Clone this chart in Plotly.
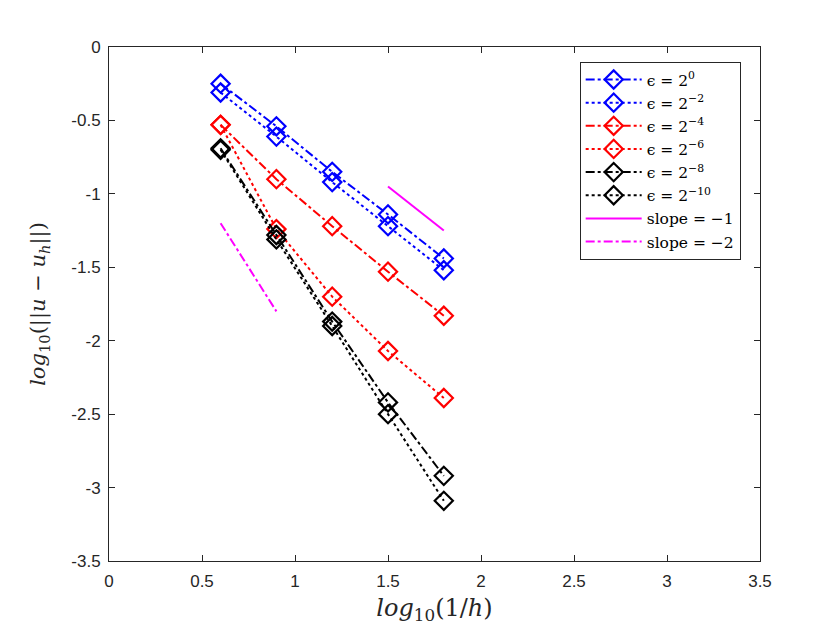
import plotly.graph_objects as go

x_vals = [0.6, 0.9, 1.2, 1.5, 1.8]

eps_0 = [-0.25, -0.54, -0.85, -1.14, -1.44]
eps_2 = [-0.31, -0.61, -0.92, -1.22, -1.52]
eps_4 = [-0.53, -0.90, -1.22, -1.53, -1.83]
eps_6 = [-0.53, -1.24, -1.70, -2.07, -2.39]
eps_8 = [-0.69, -1.28, -1.87, -2.42, -2.92]
eps_10 = [-0.70, -1.31, -1.90, -2.50, -3.09]

slope1_x = [1.5, 1.8]
slope1_y = [-0.95, -1.25]
slope2_x = [0.6, 0.9]
slope2_y = [-1.2, -1.8]

series_names = ["ϵ = 2<sup>0</sup>", "ϵ = 2<sup>−2</sup>", "ϵ = 2<sup>−4</sup>",
                "ϵ = 2<sup>−6</sup>", "ϵ = 2<sup>−8</sup>", "ϵ = 2<sup>−10</sup>"]
series_vals = [eps_0, eps_2, eps_4, eps_6, eps_8, eps_10]
series_colors = ["#0000ff", "#0000ff", "#ff0000", "#ff0000", "#000000", "#000000"]
series_dash = ["dashdot", "dot", "dashdot", "dot", "dashdot", "dot"]

x_ticks = [0, 0.5, 1, 1.5, 2, 2.5, 3, 3.5]
x_ticktext = ["0", "0.5", "1", "1.5", "2", "2.5", "3", "3.5"]
y_ticks = [0, -0.5, -1, -1.5, -2, -2.5, -3, -3.5]
y_ticktext = ["0", "-0.5", "-1", "-1.5", "-2", "-2.5", "-3", "-3.5"]

fig = go.Figure()
for name, vals, col, dash in zip(series_names, series_vals, series_colors, series_dash):
    fig.add_trace(go.Scatter(
        x=x_vals, y=vals, name=name, mode="lines+markers",
        line=dict(color=col, width=2, dash=dash),
        marker=dict(symbol="diamond-open", size=14, color=col, line=dict(width=2.2, color=col)),
    ))

fig.add_trace(go.Scatter(x=slope1_x, y=slope1_y, name="slope = −1", mode="lines",
                         line=dict(color="#ff00ff", width=2)))
fig.add_trace(go.Scatter(x=slope2_x, y=slope2_y, name="slope = −2", mode="lines",
                         line=dict(color="#ff00ff", width=2, dash="dashdot")))

axis_common = dict(
    showline=True, linecolor="#262626", linewidth=1, mirror="ticks",
    ticks="inside", ticklen=6, tickcolor="#262626", tickwidth=1,
    showgrid=False, zeroline=False,
    tickfont=dict(family="Liberation Sans, Arial, sans-serif", size=17, color="#262626"),
)

serif = "DejaVu Serif, Liberation Serif, serif"

fig.update_layout(
    width=840, height=630,
    paper_bgcolor="white", plot_bgcolor="white",
    margin=dict(l=109, r=80, t=47, b=69),
    showlegend=True,
    legend=dict(
        x=0.723, y=0.971, xanchor="left", yanchor="top",
        bordercolor="#262626", borderwidth=1, bgcolor="white",
        font=dict(family=serif, size=15.5, color="#000000"),
        tracegroupgap=0, itemwidth=56,
    ),
    xaxis=dict(
        range=[0, 3.5], tickvals=x_ticks, ticktext=x_ticktext,
        ticklabelstandoff=5,
        title=dict(text="<i>log</i><sub>10</sub>(1/<i>h</i>)",
                   font=dict(family=serif, size=24, color="#262626"),
                   standoff=8),
        **axis_common,
    ),
    yaxis=dict(
        range=[-3.5, 0], tickvals=y_ticks, ticktext=y_ticktext,
        ticklabelstandoff=4,
        title=dict(text="<i>log</i><sub>10</sub>(||<i>u</i> − <i>u</i><sub><i>h</i></sub>||)",
                   font=dict(family=serif, size=21, color="#262626"),
                   standoff=19),
        **axis_common,
    ),
)

fig.write_html("out.html", config={"displayModeBar": False},
               post_script="document.body.style.margin='0';document.body.style.padding='0';")
